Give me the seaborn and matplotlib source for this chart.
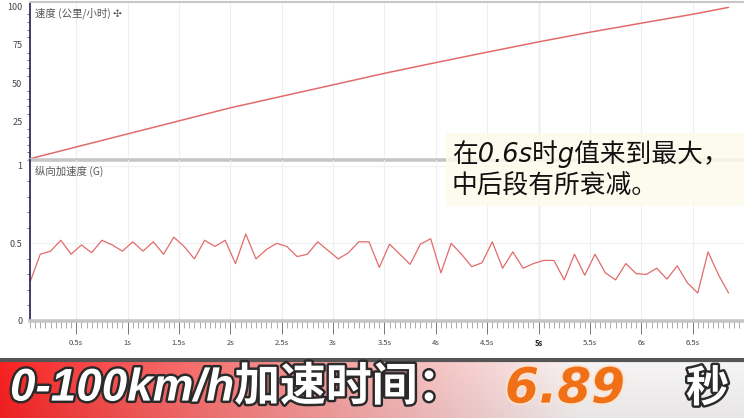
import numpy as np
import matplotlib
matplotlib.use('Agg')
import matplotlib.pyplot as plt
import matplotlib.patheffects as pe
from matplotlib.patches import Rectangle
from matplotlib.ticker import MultipleLocator
import seaborn as sns

# speed trace (seconds, km/h)
speed_t = [0.05, 0.5, 1.0, 1.5, 2.0, 2.5, 3.0, 3.5, 4.0, 4.5, 5.0, 5.5, 6.0, 6.5, 6.85]
speed_kmh = [0.8, 8.5, 17.0, 25.5, 34.0, 41.5, 49.0, 56.5, 63.5, 70.3, 77.0, 83.3, 89.2, 95.0, 99.5]

# longitudinal g, one sample every 0.1 s from 0.05 s
g_vals = [0.25, 0.43, 0.45, 0.52, 0.43, 0.49, 0.44, 0.52, 0.49, 0.45,
          0.51, 0.45, 0.51, 0.43, 0.54, 0.48, 0.40, 0.52, 0.48, 0.52,
          0.37, 0.56, 0.40, 0.46, 0.50, 0.48, 0.415, 0.43, 0.51, 0.455,
          0.40, 0.44, 0.51, 0.51, 0.345, 0.495, 0.43, 0.365, 0.495, 0.53,
          0.31, 0.50, 0.43, 0.35, 0.375, 0.51, 0.34, 0.445, 0.34, 0.37,
          0.39, 0.39, 0.265, 0.43, 0.295, 0.43, 0.31, 0.265, 0.37, 0.305,
          0.30, 0.34, 0.27, 0.355, 0.245, 0.18, 0.445, 0.30, 0.18]
g_t = np.round(0.05 + 0.1 * np.arange(len(g_vals)), 2)

x_ticks = [0.5, 1, 1.5, 2, 2.5, 3, 3.5, 4, 4.5, 5, 5.5, 6, 6.5]
x_labels = ['0.5s', '1s', '1.5s', '2s', '2.5s', '3s', '3.5s', '4s', '4.5s',
            '5s', '5.5s', '6s', '6.5s']
speed_ticks = [25, 50, 75, 100]
g_ticks = [0, 0.5, 1]
g_tick_labels = ['0', '0.5', '1']

speed_title = '速度 (公里/小时) ✣'
g_title = '纵向加速度 (G)'
note = '在0.6s时g值来到最大，\n中后段有所衰减。'
banner_main = '0-100km/h加速时间：'
banner_value = '6.89'
banner_unit = '秒'

sns.set_style('white')
plt.rcParams['font.family'] = ['Noto Sans CJK SC', 'DejaVu Sans']

LINE = '#e26b6b'
AXIS = '#2b2f5e'
GRID = '#efefef'
SEP = '#c6c6c6'
W, H = 744, 418

fig = plt.figure(figsize=(7.44, 4.18), dpi=100)
ax1 = fig.add_axes([30 / W, 1 - 160 / H, 714 / W, 158 / H])
ax2 = fig.add_axes([30 / W, 1 - 321 / H, 714 / W, 161 / H])
ax2.patch.set_alpha(0)

sns.lineplot(x=speed_t, y=speed_kmh, ax=ax1, color=LINE, linewidth=1.1)
sns.lineplot(x=g_t, y=g_vals, ax=ax2, color=LINE, linewidth=0.9)

for ax in (ax1, ax2):
    ax.set_xlim(0.05, 7.0)
    ax.set_xticks(x_ticks)
    ax.xaxis.set_minor_locator(MultipleLocator(0.05))
    ax.grid(True, axis='x', color=GRID, linewidth=0.8)
    ax.axvline(5, color='#d6d6d6', linewidth=1.0, zorder=0)
    ax.spines['right'].set_visible(False)
    ax.spines['left'].set_color(AXIS)
    ax.spines['left'].set_linewidth(1.3)
    ax.spines['top'].set_color(SEP)
    ax.spines['bottom'].set_color(SEP)
    ax.spines['bottom'].set_linewidth(2.6)
    ax.spines['top'].set_linewidth(1.5)
    ax.set_xlabel('')
    ax.set_ylabel('')
    ax.tick_params(axis='y', which='major', length=4, width=0.8, color='#555',
                   labelsize=6.5, labelcolor='#444', pad=1.5)
    ax.tick_params(axis='y', which='minor', length=2.5, width=0.6, color='#555', left=True)

ax1.set_ylim(0, 103)
ax1.set_yticks(speed_ticks)
ax1.yaxis.set_minor_locator(MultipleLocator(5))
ax1.tick_params(axis='x', which='both', bottom=False, labelbottom=False)

ax2.set_ylim(0, 1.037)
ax2.set_yticks(g_ticks)
ax2.set_yticklabels(g_tick_labels)
ax2.yaxis.set_minor_locator(MultipleLocator(0.1))
ax2.grid(True, axis='y', color=GRID, linewidth=0.8)
ax2.spines['top'].set_visible(False)
ax2.set_xticklabels(x_labels)
ax2.tick_params(axis='x', which='major', length=9, width=0.7, color='#777',
                labelsize=5.5, labelcolor='#444', pad=4, bottom=True)
ax2.tick_params(axis='x', which='minor', length=5, width=0.5, color='#888', bottom=True)
for lab in ax2.get_xticklabels():
    if lab.get_text() == '5s':
        lab.set_fontweight('bold')
        lab.set_color('#222')

ax1.text(5 / 714, 0.93, speed_title, transform=ax1.transAxes, fontsize=7.5,
         color='#555', va='center', ha='left')
ax2.text(5 / 714, 0.93, g_title, transform=ax2.transAxes, fontsize=7.5,
         color='#555', va='center', ha='left')

# cream note box
fig.patches.append(Rectangle((446 / W, 1 - 206 / H), 298 / W, 73 / H,
                             transform=fig.transFigure, facecolor='#fdfbea',
                             edgecolor='none', alpha=0.85, zorder=5))
fig.text(452 / W, 1 - 170 / H, note, fontsize=18.5, color='#111',
         style='italic', ha='left', va='center', linespacing=1.25, zorder=6,
         family=['DejaVu Sans', 'Noto Sans CJK SC'])

# banner at the bottom
axb = fig.add_axes([0, 0, 1, 60 / H])
xx = np.linspace(0, 1, 400)
t = np.clip(xx / 0.78, 0, 1) ** 0.9
red = np.array([0.98, 0.13, 0.13])
white = np.array([0.97, 0.96, 0.96])
row = red[None, :] * (1 - t[:, None]) + white[None, :] * t[:, None]
vv = np.linspace(0, 1, 60)[:, None, None]
shade = 1 - 0.06 * vv
img = np.clip(row[None, :, :] * shade, 0, 1)
axb.imshow(img, aspect='auto', extent=[0, 1, 0, 1], origin='upper')
axb.axhline(0.97, color='#555', linewidth=3)
axb.set_xlim(0, 1)
axb.set_ylim(0, 1)
axb.axis('off')

stroke = [pe.withStroke(linewidth=3.5, foreground='#2a2a2a')]
axb.text(10 / W, 0.49, banner_main, color='white', fontsize=33,
         fontweight='bold', style='italic', ha='left', va='center',
         family=['Liberation Sans', 'Noto Sans CJK SC'], path_effects=stroke)
axb.text(505 / W, 0.49, banner_value, color='#f07018', fontsize=35,
         fontweight='bold', style='italic', ha='left', va='center',
         family=['DejaVu Sans'],
         path_effects=[pe.withStroke(linewidth=2.5, foreground='#fbe3d0')])
axb.text(686 / W, 0.49, banner_unit, color='white', fontsize=31,
         fontweight='bold', ha='left', va='center',
         family=['Noto Sans CJK SC'], path_effects=stroke)

fig.savefig('out.png', dpi=100)
